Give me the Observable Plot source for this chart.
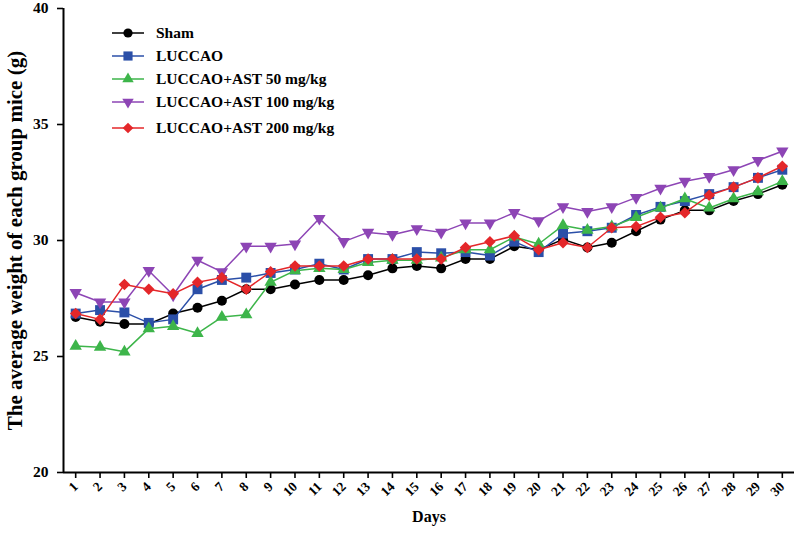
<!DOCTYPE html>
<html><head><meta charset="utf-8">
<script src="https://cdn.jsdelivr.net/npm/d3@7"></script>
<script src="https://cdn.jsdelivr.net/npm/@observablehq/plot@0.6"></script>
<style>
body{margin:0;background:#fff;}
#wrap{position:relative;width:797px;height:533px;font-family:"Liberation Serif","Times New Roman",serif;}
#legend{position:absolute;left:110px;top:21px;font-weight:bold;font-size:15.5px;color:#000;}
.row{display:flex;align-items:center;height:23px;white-space:nowrap;}
.row svg{margin-right:10px;}
</style></head><body><div id="wrap"><div id="legend"></div></div>
<script>
const days = [1,2,3,4,5,6,7,8,9,10,11,12,13,14,15,16,17,18,19,20,21,22,23,24,25,26,27,28,29,30];
const groups = ["Sham","LUCCAO","LUCCAO+AST 50 mg/kg","LUCCAO+AST 100 mg/kg","LUCCAO+AST 200 mg/kg"];
const colors = ["#000000","#2b4fa8","#3db54a","#8d45b5","#e4272a"];
const yTicks = [20,25,30,35,40];

const sham   = [26.7,26.5,26.4,26.4,26.85,27.1,27.4,27.9,27.9,28.1,28.3,28.3,28.5,28.8,28.9,28.8,29.2,29.2,29.75,29.6,30.05,29.7,29.9,30.4,30.9,31.3,31.3,31.7,32.0,32.4];
const luccao = [26.85,27.0,26.9,26.45,26.6,27.9,28.3,28.4,28.6,28.75,29.0,28.75,29.2,29.2,29.5,29.45,29.5,29.35,29.95,29.5,30.3,30.4,30.55,31.1,31.45,31.7,32.0,32.3,32.7,33.05];
const ast50  = [25.45,25.4,25.2,26.2,26.3,26.0,26.7,26.8,28.2,28.7,28.8,28.75,29.05,29.15,29.15,29.25,29.6,29.6,30.15,29.85,30.65,30.45,30.6,31.0,31.4,31.8,31.4,31.8,32.1,32.55];
const ast100 = [27.75,27.35,27.35,28.7,27.65,29.15,28.65,29.75,29.75,29.85,30.95,29.95,30.35,30.25,30.5,30.35,30.75,30.75,31.2,30.85,31.45,31.25,31.45,31.85,32.25,32.55,32.75,33.05,33.45,33.85];
const ast200 = [26.85,26.6,28.1,27.9,27.7,28.2,28.4,27.9,28.65,28.9,28.9,28.9,29.2,29.2,29.2,29.2,29.7,29.95,30.2,29.6,29.9,29.7,30.55,30.6,31.0,31.2,31.95,32.3,32.7,33.2];
const series = [sham, luccao, ast50, ast100, ast200];

const triDown = {draw(ctx, size){
  const y = -Math.sqrt(size / (Math.sqrt(3) * 3));
  ctx.moveTo(0, -y * 2);
  ctx.lineTo(-Math.sqrt(3) * y, y);
  ctx.lineTo(Math.sqrt(3) * y, y);
  ctx.closePath();
}};
const symbols = ["circle","square","triangle",triDown,"diamond2"];
const radii = [5,5.6,4.6,4.6,5.2];

const data = [];
series.forEach((vals, gi) => vals.forEach((v, i) => data.push({group: groups[gi], day: days[i], value: v})));

const marks = [];
groups.forEach((g, gi) => {
  const d = data.filter(r => r.group === g);
  marks.push(Plot.line(d, {x: "day", y: "value", stroke: colors[gi], strokeWidth: 1.5}));
  marks.push(Plot.dot(d, {x: "day", y: "value", fill: colors[gi], stroke: "none", symbol: symbols[gi], r: radii[gi]}));
});

const chart = Plot.plot({
  width: 797, height: 533,
  marginLeft: 63, marginRight: 3, marginTop: 8, marginBottom: 61,
  style: {fontFamily: '"Liberation Serif", "Times New Roman", serif', fontWeight: "bold", fontSize: "15px", color: "#000", background: "#fff"},
  x: {domain: [0.5, 30.5]},
  y: {domain: [20, 40]},
  marks: [
    Plot.axisY({ticks: yTicks, tickSize: 6, tickPadding: 9, tickFormat: d => String(d), label: null, fontSize: 15.5, strokeWidth: 1.6}),
    Plot.axisX({ticks: days, tickSize: 6, tickPadding: 6, tickRotate: -45, tickFormat: d => String(d), label: null, fontSize: 13.5, strokeWidth: 1.6}),
    Plot.ruleX([0.5], {stroke: "#000", strokeWidth: 2}),
    Plot.ruleY([20], {stroke: "#000", strokeWidth: 2}),
    Plot.text(["The average weight of each group mice (g)"], {frameAnchor: "left", textAnchor: "middle", rotate: -90, dx: -48, fontSize: 21, fontWeight: "bold", fill: "#000"}),
    Plot.text(["Days"], {frameAnchor: "bottom", textAnchor: "middle", dy: 49, fontSize: 16, fontWeight: "bold", fill: "#000"}),
    ...marks
  ]
});
document.getElementById("wrap").prepend(chart);

const legend = d3.select("#legend");
groups.forEach((g, gi) => {
  const row = legend.append("div").attr("class", "row");
  if (gi === 4) row.style("margin-top", "3px");
  const svg = row.append("svg").attr("width", 36).attr("height", 16);
  svg.append("line").attr("x1", 2).attr("x2", 34).attr("y1", 8).attr("y2", 8).attr("stroke", colors[gi]).attr("stroke-width", 1.5);
  const sym = typeof symbols[gi] === "string"
    ? {circle: d3.symbolCircle, square: d3.symbolSquare, triangle: d3.symbolTriangle, diamond2: d3.symbolDiamond2}[symbols[gi]]
    : symbols[gi];
  svg.append("path").attr("transform", "translate(18,8)").attr("d", d3.symbol(sym, Math.PI * radii[gi] * radii[gi] * 0.85)()).attr("fill", colors[gi]);
  row.append("span").text(g);
});
</script>
</body></html>
